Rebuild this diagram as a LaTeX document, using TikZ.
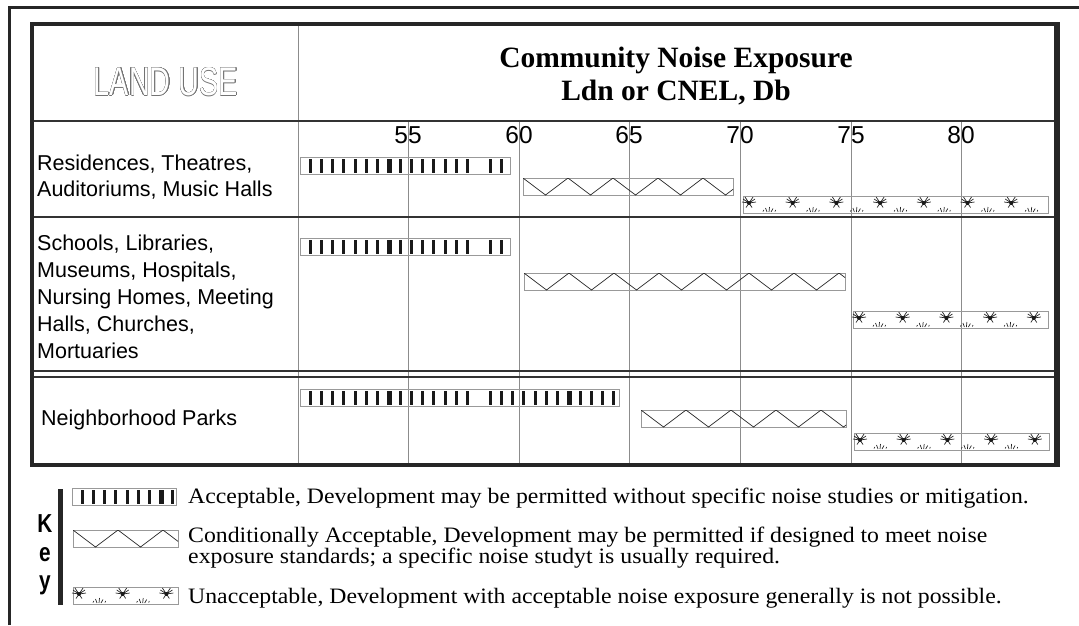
\documentclass[tikz,border=0pt]{standalone}
\usepackage{fontspec}
\setmainfont{Liberation Serif}
\setsansfont{Liberation Sans}
\newfontfamily\keyfont[FakeStretch=1.08]{Liberation Serif}
\usepackage{contour}
\contourlength{0.5pt}

\tikzset{
  frame/.style={line width=4.5pt, black!85},
  sep/.style={line width=1.8pt, black!80},
  gridline/.style={line width=0.8pt, black!45},
  barbox/.style={draw=black!40, line width=0.8pt},
  ink/.style={line width=0.7pt, black!85},
  uselbl/.style={anchor=base west, inner sep=0pt, font=\sffamily\fontsize{21.5}{26}\selectfont},
  dblbl/.style={anchor=base, inner sep=0pt, font=\sffamily\fontsize{24.5}{28}\selectfont},
  hdlbl/.style={anchor=base, inner sep=0pt, font=\bfseries\fontsize{29.5}{34}\selectfont},
  keylbl/.style={anchor=base west, inner sep=0pt, font=\keyfont\fontsize{22}{22}\selectfont},
  keyltr/.style={anchor=base, inner sep=0pt, font=\sffamily\bfseries\fontsize{26}{30}\selectfont},
}

% acceptable: box with vertical stripes
\newcommand\accbar[3]{%
  \draw[barbox] (#1,#3) rectangle (#2,#3+17);
  \pgfmathtruncatemacro\nst{(#2-#1-12)/11.25}
  \foreach \k in {0,...,\nst}{
    \ifnum\k=15 \else
      \pgfmathsetmacro\sx{#1+8.5+11.25*\k}
      \pgfmathsetmacro\sw{mod(\k,8)==7 ? 5 : 3}
      \fill[black!90] (\sx,#3+1.5) rectangle ++(\sw,14);
    \fi}
}
% conditional: box with zigzag
\newcommand\condbar[3]{%
  \draw[barbox] (#1,#3) rectangle (#2,#3+17);
  \pgfmathtruncatemacro\nzz{(#2-#1)/22.5+1}
  \begin{scope}
    \clip (#1,#3) rectangle (#2,#3+17);
    \draw[ink] (#1,#3) \foreach \j in {1,...,\nzz}{ -- ({#1+22.5*\j},{#3+17*mod(\j,2)}) };
  \end{scope}
}
% unacceptable: box with bugs and grass
\newcommand\unabar[3]{%
  \draw[barbox] (#1,#3) rectangle (#2,#3+17);
  \pgfmathtruncatemacro\nbg{(#2-#1-8)/43.7}
  \foreach \k in {0,...,\nbg}{
    \pgfmathsetmacro\bx{#1+6+43.7*\k}
    \pgfmathsetmacro\gx{#1+24+43.7*\k}
    \draw[ink] (\bx,#3+7) -- ++(-6,-4) (\bx,#3+7) -- ++(-4,-6)
      (\bx,#3+7) -- ++(4,-6) (\bx,#3+7) -- ++(6,-4)
      (\bx,#3+7) -- ++(-7,-1) (\bx,#3+7) -- ++(7,-1)
      (\bx,#3+7) -- ++(-3,4.5) (\bx,#3+7) -- ++(3,4.5);
    \fill[black!90] (\bx,#3+7) circle (2pt);
    \pgfmathtruncatemacro\ok{\gx<#2-8}
    \ifnum\ok=1
      \draw[ink] (\gx,#3+16) -- ++(-1.5,-4) (\gx+2,#3+16) -- ++(0.5,-5)
        (\gx+4,#3+16) -- ++(2,-3.5) (\gx-4,#3+15.5) -- ++(0.8,-1.5)
        (\gx+8,#3+15.5) -- ++(0.6,-1.5);
    \fi}
}

\begin{document}
\begin{tikzpicture}[x=1pt, y=-1pt]
\useasboundingbox (0,0) rectangle (1079,625);
% outer frame
\draw[line width=3pt, black!85] (9,625) -- (9,7) -- (1079,7);

% grid and dB scale
\foreach \g/\v in {408/55, 519/60, 629/65, 740/70, 851/75, 961/80}{
  \draw[gridline] (\g,121) -- (\g,465);
  \node[dblbl] (n\v) at (\g,143) {\v};
}
\draw[gridline] (298,24) -- (298,465);

% table lines
\draw[sep] (32,121) -- (1057,121);
\draw[sep] (32,217) -- (1057,217);
\draw[sep, line width=1.5pt] (32,371) -- (1057,371) (32,377) -- (1057,377);
\draw[frame] (32,24) rectangle (1057,465);
\draw[line width=6pt, black!85] (1057,22) -- (1057,467);

% header
\node[inner sep=0pt, font=\sffamily\fontsize{40}{40}\selectfont] (lu) at (166,82)
  {\scalebox{0.72}[1]{\color{white}\contour{black!55}{LAND USE}}};
\node[hdlbl] (hd1) at (676,67) {Community Noise Exposure};
\node[hdlbl] (hd2) at (676,100) {Ldn or CNEL, Db};

% land uses
\node[uselbl] (r1a) at (37,170) {Residences, Theatres,};
\node[uselbl] (r1b) at (37,196) {Auditoriums, Music Halls};
\foreach \t [count=\i] in {{Schools, Libraries,}, {Museums, Hospitals,},
    {Nursing Homes, Meeting}, {Halls, Churches,}, {Mortuaries}}
  \node[uselbl] (r2\i) at (37,{223+27*\i}) {\t};
\node[uselbl] (r3) at (41,425) {Neighborhood Parks};

% bars
\accbar{300}{510}{157}
\condbar{523}{733}{178}
\unabar{743}{1048}{196}

\accbar{300}{510}{238}
\condbar{524}{845}{273}
\unabar{853}{1048}{311}

\accbar{300}{619}{389}
\condbar{641}{846}{410}
\unabar{854}{1049}{433}

% key
\draw[line width=4.5pt, black!85] (60.5,489) -- (60.5,605);
\node[keyltr] (kK) at (45,532) {\scalebox{0.8}[1]{K}};
\node[keyltr] (ke) at (45,561) {\scalebox{0.8}[1]{e}};
\node[keyltr] (ky) at (45,589) {\scalebox{0.8}[1]{y}};
\accbar{72}{176}{488}
\condbar{73}{178}{530}
\unabar{73}{178}{587}
\node[keylbl] (k1) at (188,503) {Acceptable, Development may be permitted without specific noise studies or mitigation.};
\node[keylbl] (k2) at (188,542) {Conditionally Acceptable, Development may be permitted if designed to meet noise};
\node[keylbl] (k3) at (188,563) {exposure standards; a specific noise studyt is usually required.};
\node[keylbl] (k4) at (188,603) {Unacceptable, Development with acceptable noise exposure generally is not possible.};
\end{tikzpicture}
\end{document}
